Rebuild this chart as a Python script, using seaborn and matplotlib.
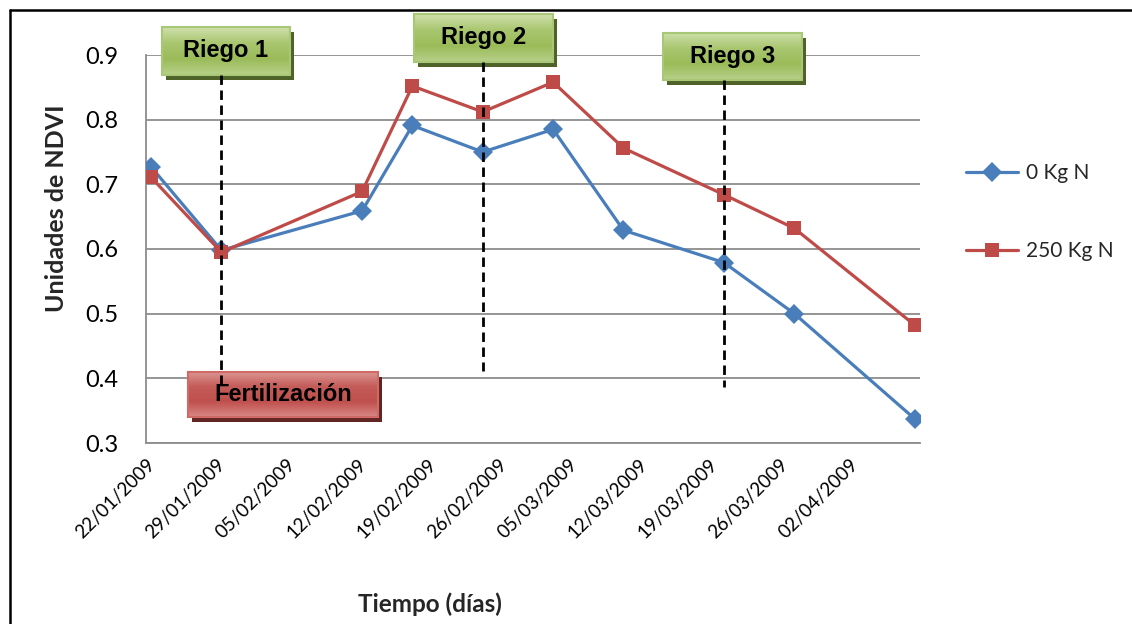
import numpy as np
import pandas as pd
import matplotlib
matplotlib.use("Agg")
import matplotlib.pyplot as plt
import matplotlib.dates as mdates
import matplotlib.transforms as mtransforms
from matplotlib.patches import Rectangle
from matplotlib.lines import Line2D
from matplotlib.colors import LinearSegmentedColormap
import seaborn as sns

# ---------------- data ----------------
fechas = ["2009-01-22", "2009-01-29", "2009-02-12", "2009-02-17", "2009-02-24",
          "2009-03-03", "2009-03-10", "2009-03-20", "2009-03-27", "2009-04-08"]
ndvi_0kg = [0.727, 0.598, 0.659, 0.791, 0.750, 0.785, 0.629, 0.579, 0.500, 0.337]
ndvi_250kg = [0.711, 0.595, 0.689, 0.852, 0.812, 0.858, 0.756, 0.684, 0.632, 0.482]
series = ["0 Kg N", "250 Kg N"]
eventos_riego = ["2009-01-29", "2009-02-24", "2009-03-20"]
etiquetas_riego = ["Riego 1", "Riego 2", "Riego 3"]
etiqueta_fert = "Fertilización"
eje_inicio, eje_fin = "2009-01-22", "2009-04-09"

# ---------------- style ----------------
sns.set_style("white")
plt.rcParams["font.family"] = ["Lato", "DejaVu Sans"]
BOX_FONT = ["Liberation Sans", "DejaVu Sans"]
GRID = "#8c8c8c"
BLUE = "#4a7ebb"
RED = "#be4b48"

W, H = 1132, 624
fig = plt.figure(figsize=(W / 100, H / 100), dpi=100)
ax = fig.add_axes([146 / W, 1 - 443 / H, 774 / W, 388 / H])

half_day = pd.Timedelta(hours=12)
df = pd.DataFrame({
    "fecha": list(pd.to_datetime(fechas) + half_day) * 2,
    "ndvi": ndvi_0kg + ndvi_250kg,
    "serie": [series[0]] * len(fechas) + [series[1]] * len(fechas),
})

sns.lineplot(data=df, x="fecha", y="ndvi", hue="serie", style="serie",
             markers={series[0]: "D", series[1]: "s"}, dashes=False,
             palette={series[0]: BLUE, series[1]: RED},
             linewidth=2.3, markersize=10, markeredgewidth=0, ax=ax, zorder=3)

x0 = pd.Timestamp(eje_inicio)
x1 = pd.Timestamp(eje_fin)

# ---------------- boxes ----------------
def caja(xc_days, yc, w_days, h_val, texto, stops, sombra, borde):
    xc = mdates.date2num(x0 + pd.Timedelta(days=xc_days))
    xa, xb = xc - w_days / 2, xc + w_days / 2
    ya, yb = yc - h_val / 2, yc + h_val / 2
    off = mtransforms.ScaledTranslation(4 / 100, -5 / 100, fig.dpi_scale_trans)
    ax.add_patch(Rectangle((xa, ya), w_days, h_val, transform=ax.transData + off,
                           facecolor=sombra, edgecolor="none", clip_on=False, zorder=5))
    cmap = LinearSegmentedColormap.from_list("g", stops)
    img = cmap(np.linspace(0, 1, 120))[:, None, :]
    ax.imshow(img, extent=[xa, xb, ya, yb], origin="upper", aspect="auto",
              interpolation="bilinear", zorder=6, clip_on=False)
    ax.add_patch(Rectangle((xa, ya), w_days, h_val, facecolor="none", edgecolor=borde,
                           lw=1.5, clip_on=False, zorder=7))
    ax.text(xc, yc, texto, ha="center", va="center", fontsize=17, fontweight="bold",
            family=BOX_FONT, color="black", zorder=8, clip_on=False)

green_stops = ["#cfe1ac", "#a9c66f", "#9bbb59", "#b7d08a"]
red_stops = ["#dd9896", "#c45c59", "#c0504d", "#d98886"]

caja(7.95, 0.9062, 12.8, 0.0742, etiquetas_riego[0], green_stops, "#4f6228", "#a8c878")
caja(33.57, 0.9263, 13.8, 0.0742, etiquetas_riego[1], green_stops, "#4f6228", "#a8c878")
caja(58.35, 0.8975, 13.8, 0.073, etiquetas_riego[2], green_stops, "#4f6228", "#a8c878")
caja(13.63, 0.375, 18.9, 0.0696, etiqueta_fert, red_stops, "#632523", "#d06a67")

# dashed event lines
tramos = [(0.869, 0.391), (0.889, 0.411), (0.861, 0.387)]
for fecha, (ya, yb) in zip(eventos_riego, tramos):
    xd = pd.Timestamp(fecha) + half_day
    ax.plot([xd, xd], [ya, yb], color="black", lw=2.0, linestyle=(0, (3.4, 2.0)),
            zorder=9, clip_on=False)

# ---------------- axes ----------------
ax.set_xlim(x0, x1)
ax.set_ylim(0.3, 0.9)
ax.set_aspect("auto")

ticks = pd.date_range(eje_inicio, eje_fin, freq="7D")
labels = [t.strftime("%d/%m/%Y") for t in ticks[:-1]] + [""]
ax.set_xticks(ticks)
ax.set_xticklabels(labels, rotation=45, ha="right", rotation_mode="anchor")
ax.set_yticks(np.arange(0.3, 0.91, 0.1))
ax.set_yticklabels([f"{v:.1f}" for v in np.arange(0.3, 0.91, 0.1)])

ax.yaxis.grid(True, color=GRID, lw=1.3)
ax.xaxis.grid(False)
for s in ["top", "right"]:
    ax.spines[s].set_visible(False)
for s in ["left", "bottom"]:
    ax.spines[s].set_color(GRID)
    ax.spines[s].set_linewidth(1.3)
ax.tick_params(axis="both", direction="out", length=6, width=1.3, color=GRID,
               labelcolor="black")
ax.tick_params(axis="y", pad=14, labelsize=17)
ax.tick_params(axis="x", pad=3, labelsize=13.5)

ax.set_xlabel("Tiempo (días)", fontsize=17.5, fontweight="bold")
ax.set_ylabel("Unidades de NDVI", fontsize=18, fontweight="bold")
ax.xaxis.set_label_coords((430 - 146) / 774, -(592 - 443) / 388)
ax.yaxis.set_label_coords((68 - 146) / 774, (443 - 208) / 388)

handles, labs = ax.get_legend_handles_labels()
leg = ax.legend(handles, labs, loc="center left",
                bbox_to_anchor=((966 - 146) / 774, (443 - 212) / 388),
                frameon=False, fontsize=15, borderpad=0, borderaxespad=0,
                handlelength=2.5, handletextpad=0.4, labelspacing=2.8)

# figure frame (top and left only)
fig.add_artist(Line2D([10 / W, 1], [1 - 10 / H, 1 - 10 / H], transform=fig.transFigure,
                      color="black", lw=1.8))
fig.add_artist(Line2D([10 / W, 10 / W], [0, 1 - 10 / H], transform=fig.transFigure,
                      color="black", lw=1.8))

fig.savefig("out.png", dpi=100, facecolor="white")
